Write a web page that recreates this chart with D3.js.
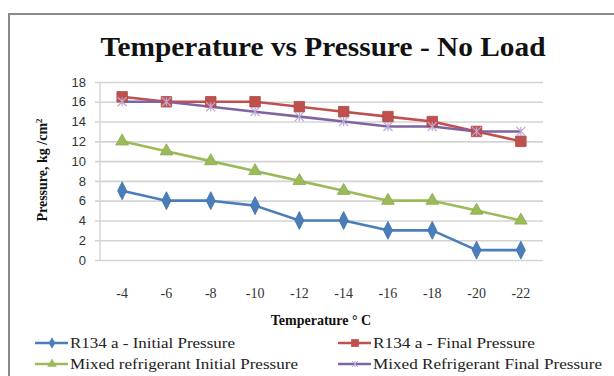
<!DOCTYPE html>
<html><head><meta charset="utf-8">
<script src="https://cdn.jsdelivr.net/npm/d3@7"></script>
<style>html,body{margin:0;padding:0;background:#fff;}svg{display:block;}</style>
</head><body>
<svg id="c" width="614" height="376"></svg>
<script>
const categories = ["-4","-6","-8","-10","-12","-14","-16","-18","-20","-22"];
const r134Initial = [7,6,6,5.5,4,4,3,3,1,1];
const r134Final = [16.5,16,16,16,15.5,15,14.5,14,13,12];
const mixedInitial = [12,11,10,9,8,7,6,6,5,4];
const mixedFinal = [16,16,15.5,15,14.5,14,13.5,13.5,13,13];
const yTicks = [0,2,4,6,8,10,12,14,16,18];
const seriesNames = ["R134 a - Initial Pressure","R134 a - Final Pressure","Mixed refrigerant Initial Pressure","Mixed Refrigerant Final Pressure"];

const series = [
  {name: seriesNames[0], values: r134Initial, color: "#4A7EBB", marker: d3.symbolDiamond, size: 70},
  {name: seriesNames[1], values: r134Final, color: "#C0504D", marker: d3.symbolSquare, size: 110},
  {name: seriesNames[2], values: mixedInitial, color: "#9BBB59", marker: d3.symbolTriangle, size: 70},
  {name: seriesNames[3], values: mixedFinal, color: "#8064A2", marker: "star", size: 0}
];

const svg = d3.select("#c");
// frame
svg.append("path").attr("d","M9,376 L9,14 L614,14").attr("fill","none").attr("stroke","#8a8a8a").attr("stroke-width",2);

const x = d3.scaleBand().domain(categories).range([100,543]);
const y = d3.scaleLinear().domain([0,18]).range([260,82]);

// title
svg.append("text").attr("x",323).attr("y",56).attr("text-anchor","middle")
  .attr("font-family","Liberation Serif").attr("font-weight","bold").attr("font-size",28)
  .attr("textLength",445).attr("lengthAdjust","spacingAndGlyphs")
  .attr("fill","#111").text("Temperature vs Pressure - No Load");

// gridlines
const gy = svg.append("g").attr("transform","translate(100,0)")
  .call(d3.axisLeft(y).tickValues(yTicks).tickSize(-443).tickPadding(14).tickFormat(d3.format("d")));
gy.select(".domain").remove();
gy.selectAll(".tick line").attr("stroke","#d4d4d4").attr("stroke-width",1.6).attr("x1",-5);
gy.selectAll(".tick text").attr("font-family","Liberation Sans").attr("font-size",13).attr("fill","#333");
svg.append("line").attr("x1",100).attr("x2",100).attr("y1",82).attr("y2",260).attr("stroke","#d4d4d4").attr("stroke-width",1.4);

// x axis labels
const gx = svg.append("g").attr("transform","translate(0,260)")
  .call(d3.axisBottom(x).tickSize(0).tickPadding(28));
gx.select(".domain").remove();
gx.selectAll(".tick text").attr("font-family","Liberation Serif").attr("font-size",14).attr("fill","#333");

// axis titles
svg.append("text").attr("x",321).attr("y",325).attr("text-anchor","middle")
  .attr("font-family","Liberation Serif").attr("font-weight","bold").attr("font-size",14)
  .attr("fill","#111").text("Temperature ° C");
svg.append("text").attr("transform","translate(47,170) rotate(-90)").attr("text-anchor","middle")
  .attr("font-family","Liberation Serif").attr("font-weight","bold").attr("font-size",14)
  .attr("fill","#111").html("Pressure, kg /cm<tspan dy='-5' font-size='9'>2</tspan>");

function starPath(cx, cy, r){
  return `M${cx-r},${cy-r}L${cx+r},${cy+r}M${cx-r},${cy+r}L${cx+r},${cy-r}M${cx},${cy-r}L${cx},${cy+r}`;
}
function drawMarker(g, s, cx, cy){
  if (s.marker === "star") {
    g.append("path").attr("d", starPath(cx,cy,4.5)).attr("stroke","#b9a8d6").attr("stroke-width",1.2).attr("fill","none");
  } else {
    g.append("path").attr("d", d3.symbol().type(s.marker).size(s.size)())
      .attr("transform", `translate(${cx},${cy})` + (s.marker===d3.symbolDiamond?" scale(1,1.15)":""))
      .attr("fill", s.color).attr("stroke", d3.color(s.color).darker(0.3)).attr("stroke-width",0.8);
  }
}

const line = d3.line().x((d,i)=>x(categories[i])+x.bandwidth()/2).y(d=>y(d));
const plot = svg.append("g");
series.forEach(s=>{
  plot.append("path").datum(s.values).attr("d",line).attr("fill","none")
    .attr("stroke",s.color).attr("stroke-width",2.6).attr("stroke-linejoin","round");
});
series.forEach(s=>{
  s.values.forEach((v,i)=>drawMarker(plot, s, x(categories[i])+x.bandwidth()/2, y(v)));
});

// legend
const legPos = [[35,343],[338,343],[35,364],[338,364]];
const legW = [165,162,228,229];
series.forEach((s,i)=>{
  const [lx,ly] = legPos[i];
  const g = svg.append("g");
  g.append("line").attr("x1",lx).attr("x2",lx+33).attr("y1",ly).attr("y2",ly).attr("stroke",s.color).attr("stroke-width",2.6);
  if (s.marker !== "star") {
    g.append("path").attr("d", d3.symbol().type(s.marker).size(s.size*0.55)())
      .attr("transform",`translate(${lx+17},${ly})`).attr("fill",s.color);
  } else {
    g.append("path").attr("d", starPath(lx+17,ly,3)).attr("stroke","#b9a8d6").attr("stroke-width",1);
  }
  g.append("text").attr("x",lx+35).attr("y",ly+5).attr("font-family","Liberation Serif").attr("font-size",15)
    .attr("textLength",legW[i]).attr("lengthAdjust","spacingAndGlyphs")
    .attr("fill","#222").text(s.name);
});
</script>
</body></html>
